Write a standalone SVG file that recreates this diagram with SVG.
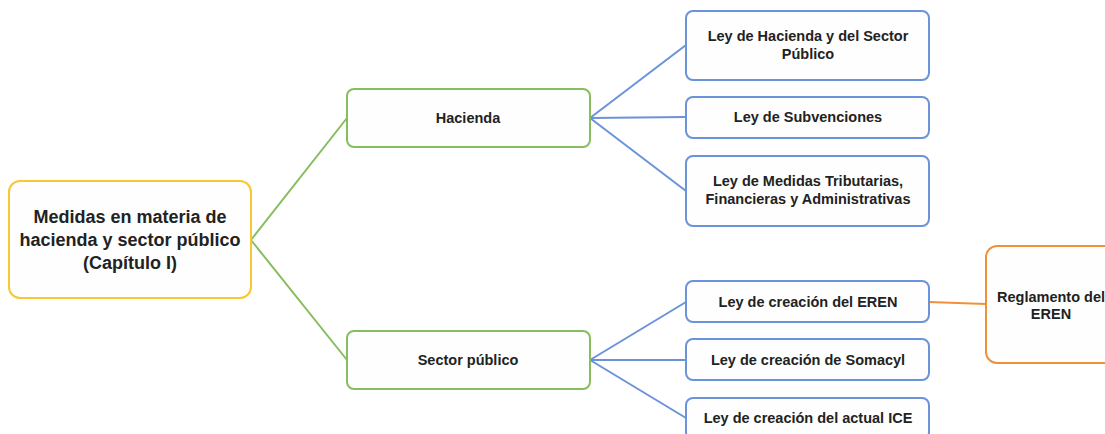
<svg xmlns="http://www.w3.org/2000/svg" width="1105" height="434" viewBox="0 0 1105 434">
<style>
.n{fill:#fefefe;stroke-width:2}
.y{stroke:#f8c733}
.g{stroke:#86be5e}
.b{stroke:#6b93d9}
.o{stroke:#f0913a}
.t{font-family:"Liberation Sans",Arial,sans-serif;font-weight:bold;fill:#222;text-anchor:middle}
.s{font-size:14.5px}
.l{font-size:18px}
.c{fill:none;stroke-width:2}
</style>
<rect width="1105" height="434" fill="#fff"/>
<g id="connectors">
<path class="c g" d="M251,240 L347,118 M251,240 L347,360"/>
<path class="c b" d="M590,118 L686,45 M590,118 L686,117 M590,118 L686,191 M590,360 L686,302 M590,360 L686,360 M590,360 L686,418"/>
<path class="c o" d="M929,302 L986,304"/>
</g>
<g id="root">
<rect class="n y" x="9" y="181" width="242" height="117" rx="11"/>
<text class="t l" x="130" y="223">Medidas en materia de</text>
<text class="t l" x="130" y="246">hacienda y sector público</text>
<text class="t l" x="130" y="269">(Capítulo I)</text>
</g>
<g id="hacienda">
<rect class="n g" x="347" y="89" width="243" height="58" rx="7"/>
<text class="t s" x="468" y="123">Hacienda</text>
</g>
<g id="sector">
<rect class="n g" x="347" y="331" width="243" height="58" rx="7"/>
<text class="t s" x="468" y="365">Sector público</text>
</g>
<g id="ley-hacienda">
<rect class="n b" x="686" y="11" width="243" height="69" rx="7"/>
<text class="t s" x="808" y="41">Ley de Hacienda y del Sector</text>
<text class="t s" x="808" y="59">Público</text>
</g>
<g id="ley-subvenciones">
<rect class="n b" x="686" y="97" width="243" height="41" rx="7"/>
<text class="t s" x="808" y="122">Ley de Subvenciones</text>
</g>
<g id="ley-medidas">
<rect class="n b" x="686" y="156" width="243" height="70" rx="7"/>
<text class="t s" x="808" y="186">Ley de Medidas Tributarias,</text>
<text class="t s" x="808" y="204">Financieras y Administrativas</text>
</g>
<g id="ley-eren">
<rect class="n b" x="686" y="281" width="243" height="41" rx="7"/>
<text class="t s" x="808" y="307">Ley de creación del EREN</text>
</g>
<g id="ley-somacyl">
<rect class="n b" x="686" y="339" width="243" height="41" rx="7"/>
<text class="t s" x="808" y="365">Ley de creación de Somacyl</text>
</g>
<g id="ley-ice">
<rect class="n b" x="686" y="398" width="243" height="41" rx="7"/>
<text class="t s" x="808" y="423">Ley de creación del actual ICE</text>
</g>
<g id="reglamento-eren">
<rect class="n o" x="986" y="246" width="200" height="117" rx="11"/>
<text class="t s" x="1051" y="302">Reglamento del</text>
<text class="t s" x="1051" y="319">EREN</text>
</g>
</svg>
